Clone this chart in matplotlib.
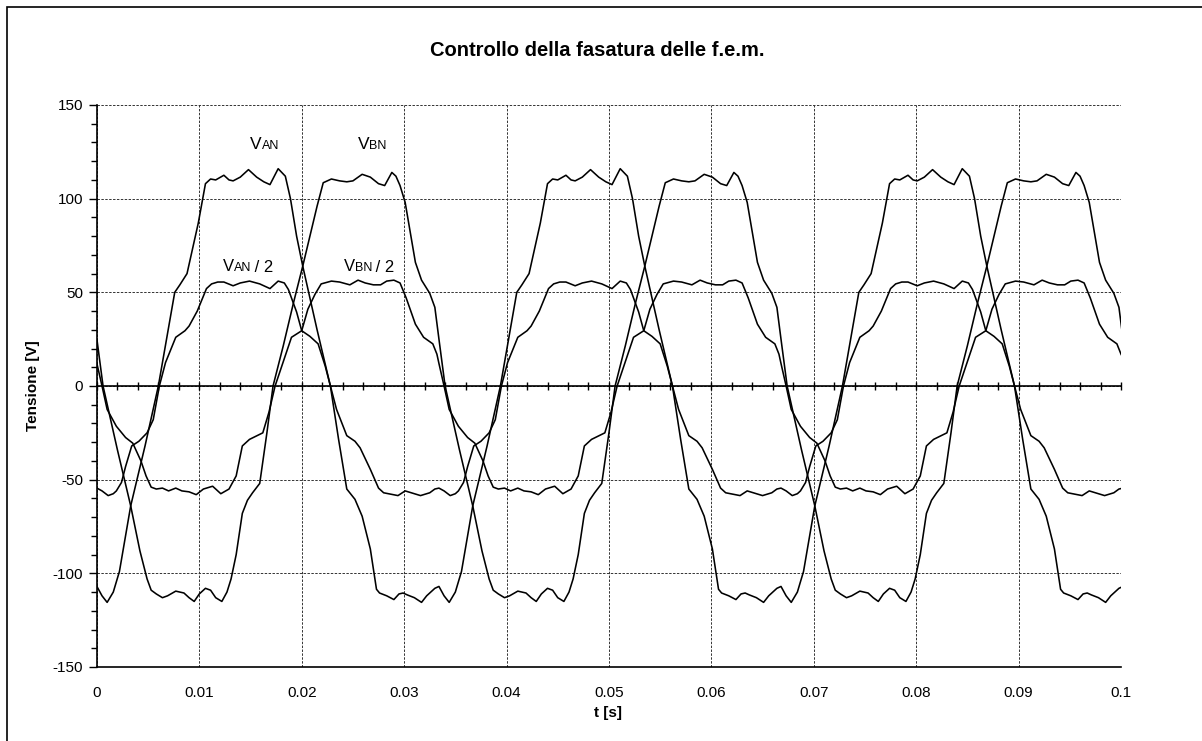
import matplotlib
matplotlib.use("Agg")
import matplotlib.pyplot as plt
from matplotlib.patches import Rectangle
from matplotlib.ticker import MultipleLocator

plt.rcParams["font.family"] = ["Liberation Sans", "DejaVu Sans"]
plt.rcParams["axes.unicode_minus"] = False

# breakpoints: time [s], voltage [V]
t_van = [0.0000, 0.0005, 0.0010, 0.0016, 0.0022, 0.0033, 0.0047, 0.0060, 0.0076, 0.0081,
         0.0088, 0.0099, 0.0106, 0.0111, 0.0116, 0.0124, 0.0129, 0.0133, 0.0140, 0.0148,
         0.0156, 0.0163, 0.0169, 0.0177, 0.0184, 0.0189, 0.0195, 0.0201, 0.0215, 0.0228,
         0.0236, 0.0244, 0.0252, 0.0259, 0.0267, 0.0273, 0.0276, 0.0283, 0.0290, 0.0295,
         0.0299, 0.0303, 0.0310, 0.0317, 0.0322, 0.0325, 0.0330,
         0.0334, 0.0339, 0.0344, 0.0350, 0.0356, 0.0367, 0.0381, 0.0394, 0.0410, 0.0415,
         0.0422, 0.0433, 0.0440, 0.0445, 0.0450, 0.0458, 0.0463, 0.0467, 0.0474, 0.0482,
         0.0490, 0.0497, 0.0503, 0.0511, 0.0518, 0.0523, 0.0529, 0.0535, 0.0549, 0.0562,
         0.0570, 0.0578, 0.0586, 0.0593, 0.0601, 0.0607, 0.0610, 0.0617, 0.0624, 0.0629,
         0.0633, 0.0637, 0.0644, 0.0651, 0.0656, 0.0659, 0.0664,
         0.0668, 0.0673, 0.0678, 0.0684, 0.0690, 0.0701, 0.0715, 0.0728, 0.0744, 0.0749,
         0.0756, 0.0767, 0.0774, 0.0779, 0.0784, 0.0792, 0.0797, 0.0801, 0.0808, 0.0816,
         0.0824, 0.0831, 0.0837, 0.0845, 0.0852, 0.0857, 0.0863, 0.0869, 0.0883, 0.0896,
         0.0904, 0.0912, 0.0920, 0.0927, 0.0935, 0.0941, 0.0944, 0.0951, 0.0958, 0.0963,
         0.0967, 0.0971, 0.0978, 0.0985, 0.0990, 0.0993, 0.0998, 0.1002]
v_an = [-107, -112, -115.5, -110, -99, -64, -32, 0, 50, 54,
        60, 87, 108, 110.5, 110, 112.5, 110, 109.5, 111.5, 115.5,
        111.5, 109, 107.5, 116, 112, 100, 80, 64, 30, 0,
        -28.5, -55, -60.5, -69.5, -87, -108.5, -110.5, -112, -114, -111,
        -110.5, -111.5, -113, -115.5, -112, -110.5, -108,
        -107, -112, -115.5, -110, -99, -64, -32, 0, 50, 54,
        60, 87, 108, 110.5, 110, 112.5, 110, 109.5, 111.5, 115.5,
        111.5, 109, 107.5, 116, 112, 100, 80, 64, 30, 0,
        -28.5, -55, -60.5, -69.5, -87, -108.5, -110.5, -112, -114, -111,
        -110.5, -111.5, -113, -115.5, -112, -110.5, -108,
        -107, -112, -115.5, -110, -99, -64, -32, 0, 50, 54,
        60, 87, 108, 110.5, 110, 112.5, 110, 109.5, 111.5, 115.5,
        111.5, 109, 107.5, 116, 112, 100, 80, 64, 30, 0,
        -28.5, -55, -60.5, -69.5, -87, -108.5, -110.5, -112, -114, -111,
        -110.5, -111.5, -113, -115.5, -112, -110.5, -108, -107]

t_vbn = [0.0000, 0.0006, 0.0020, 0.0033, 0.0042, 0.0049, 0.0053, 0.0058, 0.0064, 0.0069,
         0.0077, 0.0085, 0.0090, 0.0095, 0.0100, 0.0106, 0.0111, 0.0116, 0.0122, 0.0127,
         0.0131, 0.0136, 0.0142, 0.0147, 0.0152, 0.0159, 0.0166, 0.0172, 0.0182, 0.0192,
         0.0201, 0.0208, 0.0215, 0.0221, 0.0229, 0.0237, 0.0244, 0.0250, 0.0259, 0.0267,
         0.0275, 0.0281, 0.0288, 0.0292, 0.0296, 0.0301, 0.0306, 0.0311, 0.0317, 0.0325,
         0.0330,
         0.0334, 0.0340, 0.0354, 0.0367, 0.0376, 0.0383, 0.0387, 0.0392, 0.0398, 0.0403,
         0.0411, 0.0419, 0.0424, 0.0429, 0.0434, 0.0440, 0.0445, 0.0450, 0.0456, 0.0461,
         0.0465, 0.0470, 0.0476, 0.0481, 0.0486, 0.0493, 0.0500, 0.0506, 0.0516, 0.0526,
         0.0535, 0.0542, 0.0549, 0.0555, 0.0563, 0.0571, 0.0578, 0.0584, 0.0593, 0.0601,
         0.0609, 0.0615, 0.0622, 0.0626, 0.0630, 0.0635, 0.0640, 0.0645, 0.0651, 0.0659,
         0.0664,
         0.0668, 0.0674, 0.0688, 0.0701, 0.0710, 0.0717, 0.0721, 0.0726, 0.0732, 0.0737,
         0.0745, 0.0753, 0.0758, 0.0763, 0.0768, 0.0774, 0.0779, 0.0784, 0.0790, 0.0795,
         0.0799, 0.0804, 0.0810, 0.0815, 0.0820, 0.0827, 0.0834, 0.0840, 0.0850, 0.0860,
         0.0869, 0.0876, 0.0883, 0.0889, 0.0897, 0.0905, 0.0912, 0.0918, 0.0927, 0.0935,
         0.0943, 0.0949, 0.0956, 0.0960, 0.0964, 0.0969, 0.0974, 0.0979, 0.0985, 0.0993,
         0.0998, 0.1002]
v_bn = [25, 0, -34, -64, -88, -103, -109, -111, -113, -112,
        -109.5, -110.5, -113, -115, -111, -108, -109, -113, -115, -110,
        -103, -90, -68, -61, -57, -52, -25, 0, 21.5, 44.5,
        64, 80, 96, 108.5, 110.5, 109.5, 109, 109.5, 113, 111.5,
        108, 107, 114, 112, 107, 98, 82, 66, 56.5, 49.5,
        42,
        25, 0, -34, -64, -88, -103, -109, -111, -113, -112,
        -109.5, -110.5, -113, -115, -111, -108, -109, -113, -115, -110,
        -103, -90, -68, -61, -57, -52, -25, 0, 21.5, 44.5,
        64, 80, 96, 108.5, 110.5, 109.5, 109, 109.5, 113, 111.5,
        108, 107, 114, 112, 107, 98, 82, 66, 56.5, 49.5,
        42,
        25, 0, -34, -64, -88, -103, -109, -111, -113, -112,
        -109.5, -110.5, -113, -115, -111, -108, -109, -113, -115, -110,
        -103, -90, -68, -61, -57, -52, -25, 0, 21.5, 44.5,
        64, 80, 96, 108.5, 110.5, 109.5, 109, 109.5, 113, 111.5,
        108, 107, 114, 112, 107, 98, 82, 66, 56.5, 49.5,
        42, 25]

t_van2 = [0.0000, 0.0005, 0.0011, 0.0016, 0.0019, 0.0024, 0.0028, 0.0034, 0.0041, 0.0049,
          0.0055, 0.0061, 0.0067, 0.0077, 0.0086, 0.0090, 0.0098, 0.0107, 0.0112, 0.0118,
          0.0124, 0.0133, 0.0140, 0.0149, 0.0159, 0.0169, 0.0177, 0.0183, 0.0187, 0.0195,
          0.0200, 0.0208, 0.0216, 0.0223, 0.0228, 0.0234, 0.0244, 0.0252, 0.0257, 0.0267,
          0.0275, 0.0280, 0.0294, 0.0301, 0.0316, 0.0325, 0.0330,
          0.0334, 0.0339, 0.0345, 0.0350, 0.0353, 0.0358, 0.0362, 0.0368, 0.0375, 0.0383,
          0.0389, 0.0395, 0.0401, 0.0411, 0.0420, 0.0424, 0.0432, 0.0441, 0.0446, 0.0452,
          0.0458, 0.0467, 0.0474, 0.0483, 0.0493, 0.0503, 0.0511, 0.0517, 0.0521, 0.0529,
          0.0534, 0.0542, 0.0550, 0.0557, 0.0562, 0.0568, 0.0578, 0.0586, 0.0591, 0.0601,
          0.0609, 0.0614, 0.0628, 0.0635, 0.0650, 0.0659, 0.0664,
          0.0668, 0.0673, 0.0679, 0.0684, 0.0687, 0.0692, 0.0696, 0.0702, 0.0709, 0.0717,
          0.0723, 0.0729, 0.0735, 0.0745, 0.0754, 0.0758, 0.0766, 0.0775, 0.0780, 0.0786,
          0.0792, 0.0801, 0.0808, 0.0817, 0.0827, 0.0837, 0.0845, 0.0851, 0.0855, 0.0863,
          0.0868, 0.0876, 0.0884, 0.0891, 0.0896, 0.0902, 0.0912, 0.0920, 0.0925, 0.0935,
          0.0943, 0.0948, 0.0962, 0.0969, 0.0984, 0.0993, 0.0998, 0.1002]
v_an2 = [-54.5, -56, -58.5, -57.5, -56, -51.5, -43, -32, -29.5, -25,
         -18, 0, 12.5, 26, 29.5, 32, 40, 52, 54.5, 55.5,
         55.5, 53.5, 55, 56, 54.5, 52, 56, 55, 51.5, 39.5,
         29.5, 26.5, 22.5, 10.5, 0, -12.5, -26.5, -29.5, -33, -44.5,
         -54.5, -57, -58.5, -56, -58.5, -57, -55,
         -54.5, -56, -58.5, -57.5, -56, -51.5, -43, -32, -29.5, -25,
         -18, 0, 12.5, 26, 29.5, 32, 40, 52, 54.5, 55.5,
         55.5, 53.5, 55, 56, 54.5, 52, 56, 55, 51.5, 39.5,
         29.5, 26.5, 22.5, 10.5, 0, -12.5, -26.5, -29.5, -33, -44.5,
         -54.5, -57, -58.5, -56, -58.5, -57, -55,
         -54.5, -56, -58.5, -57.5, -56, -51.5, -43, -32, -29.5, -25,
         -18, 0, 12.5, 26, 29.5, 32, 40, 52, 54.5, 55.5,
         55.5, 53.5, 55, 56, 54.5, 52, 56, 55, 51.5, 39.5,
         29.5, 26.5, 22.5, 10.5, 0, -12.5, -26.5, -29.5, -33, -44.5,
         -54.5, -57, -58.5, -56, -58.5, -57, -55, -54.5]

t_vbn2 = [0.0000, 0.0005, 0.0010, 0.0019, 0.0028, 0.0035, 0.0043, 0.0048, 0.0053, 0.0058,
          0.0064, 0.0070, 0.0077, 0.0083, 0.0090, 0.0097, 0.0104, 0.0113, 0.0121, 0.0129,
          0.0136, 0.0142, 0.0149, 0.0162, 0.0168, 0.0174, 0.0190, 0.0200, 0.0206, 0.0213,
          0.0219, 0.0229, 0.0237, 0.0247, 0.0255, 0.0262, 0.0270, 0.0277, 0.0283, 0.0290,
          0.0296, 0.0302, 0.0311, 0.0319, 0.0328, 0.0332,
          0.0334, 0.0339, 0.0344, 0.0353, 0.0362, 0.0369, 0.0377, 0.0382, 0.0387, 0.0392,
          0.0398, 0.0404, 0.0411, 0.0417, 0.0424, 0.0431, 0.0438, 0.0447, 0.0455, 0.0463,
          0.0470, 0.0476, 0.0483, 0.0496, 0.0502, 0.0508, 0.0524, 0.0534, 0.0540, 0.0547,
          0.0553, 0.0563, 0.0571, 0.0581, 0.0589, 0.0596, 0.0604, 0.0611, 0.0617, 0.0624,
          0.0630, 0.0636, 0.0645, 0.0653, 0.0662, 0.0666,
          0.0668, 0.0673, 0.0678, 0.0687, 0.0696, 0.0703, 0.0711, 0.0716, 0.0721, 0.0726,
          0.0732, 0.0738, 0.0745, 0.0751, 0.0758, 0.0765, 0.0772, 0.0781, 0.0789, 0.0797,
          0.0804, 0.0810, 0.0817, 0.0830, 0.0836, 0.0842, 0.0858, 0.0868, 0.0874, 0.0881,
          0.0887, 0.0897, 0.0905, 0.0915, 0.0923, 0.0930, 0.0938, 0.0945, 0.0951, 0.0958,
          0.0964, 0.0970, 0.0979, 0.0987, 0.0996, 0.1000, 0.1002]
v_bn2 = [12, 0, -12.5, -21.5, -27.5, -30.5, -40, -48, -54, -55,
         -54.5, -56, -54.5, -56, -56.5, -58, -55, -53.5, -57.5, -55,
         -48, -32, -28.5, -25, -14, 0, 26, 29.5, 41, 49,
         54.5, 56, 55.5, 54, 56.5, 55, 54, 54, 56, 56.5,
         55, 47, 33, 26, 22.5, 17,
         12, 0, -12.5, -21.5, -27.5, -30.5, -40, -48, -54, -55,
         -54.5, -56, -54.5, -56, -56.5, -58, -55, -53.5, -57.5, -55,
         -48, -32, -28.5, -25, -14, 0, 26, 29.5, 41, 49,
         54.5, 56, 55.5, 54, 56.5, 55, 54, 54, 56, 56.5,
         55, 47, 33, 26, 22.5, 17,
         12, 0, -12.5, -21.5, -27.5, -30.5, -40, -48, -54, -55,
         -54.5, -56, -54.5, -56, -56.5, -58, -55, -53.5, -57.5, -55,
         -48, -32, -28.5, -25, -14, 0, 26, 29.5, 41, 49,
         54.5, 56, 55.5, 54, 56.5, 55, 54, 54, 56, 56.5,
         55, 47, 33, 26, 22.5, 17, 15]

x_ticks = [0, 0.01, 0.02, 0.03, 0.04, 0.05, 0.06, 0.07, 0.08, 0.09, 0.1]
x_tick_labels = ["0", "0.01", "0.02", "0.03", "0.04", "0.05", "0.06", "0.07", "0.08", "0.09", "0.1"]
y_ticks = [-150, -100, -50, 0, 50, 100, 150]

W, H = 1202, 741
fig = plt.figure(figsize=(W / 100, H / 100), dpi=100)
fig.patch.set_facecolor("white")

# outer chart frame (right/bottom edges fall outside the picture)
fig.add_artist(Rectangle((7 / W, -0.05), 1.2, 1 - 7 / H + 0.05, transform=fig.transFigure,
                         fill=False, edgecolor="black", linewidth=1.2))

ax = fig.add_axes([96.9 / W, (H - 667) / H, (1121 - 96.9) / W, (667 - 105) / H])

for t, v in [(t_van, v_an), (t_vbn, v_bn), (t_van2, v_an2), (t_vbn2, v_bn2)]:
    ax.plot(t, v, color="black", linewidth=1.15, zorder=3)

ax.set_xlim(0, 0.1)
ax.set_ylim(-150, 150)
ax.set_xticks(x_ticks)
ax.set_xticklabels(x_tick_labels)
ax.set_yticks(y_ticks)
ax.yaxis.set_minor_locator(MultipleLocator(10))
ax.tick_params(axis="x", which="both", length=0, pad=14, labelsize=11)
ax.tick_params(axis="y", which="major", direction="out", length=6, width=1, pad=4, labelsize=11)
ax.tick_params(axis="y", which="minor", direction="out", length=4, width=1)
ax.grid(True, which="major", linestyle=(0, (2.5, 1.5)), linewidth=0.7, color="#333333")
ax.spines["top"].set_visible(False)
ax.spines["right"].set_visible(False)
for s in ["left", "bottom"]:
    ax.spines[s].set_linewidth(1.2)

# zero line with crossing ticks
ax0 = ax.twiny()
ax0.set_xlim(0, 0.1)
ax0.xaxis.set_ticks_position("bottom")
ax0.spines["bottom"].set_position(("data", 0))
for s in ["top", "left", "right"]:
    ax0.spines[s].set_visible(False)
ax0.spines["bottom"].set_linewidth(1.2)
ax0.set_xticks(x_ticks)
ax0.xaxis.set_minor_locator(MultipleLocator(0.002))
ax0.tick_params(axis="x", which="both", direction="inout", length=6, width=1,
                labelbottom=False, labeltop=False)


def phase_label(x, y, sub, tail, size):
    ax.text(x, y, "V", fontsize=size, ha="right", va="baseline", zorder=4)
    s = ax.text(x, y, sub, fontsize=9, ha="left", va="baseline", zorder=4)
    if tail:
        ax.annotate(tail, xy=(1, 0), xycoords=s, xytext=(-1, -0.8), textcoords="offset points",
                    fontsize=size, ha="left", va="bottom", zorder=4)


phase_label(0.0161, 126.6, "AN", "", 12.5)
phase_label(0.0266, 126.6, "BN", "", 12.5)
phase_label(0.0134, 61.5, "AN", " / 2", 12)
phase_label(0.0252, 61.5, "BN", " / 2", 12)

fig.text(597 / W, 1 - 51 / H, "Controllo della fasatura delle f.e.m.", fontsize=14.5,
         fontweight="bold", ha="center", va="center")
fig.text(608 / W, 1 - 713 / H, "t [s]", fontsize=11, fontweight="bold", ha="center", va="center")
fig.text(33 / W, 1 - 386 / H, "Tensione [V]", fontsize=11, fontweight="bold", rotation=90,
         ha="center", va="center")

fig.savefig("out.png", dpi=100)
